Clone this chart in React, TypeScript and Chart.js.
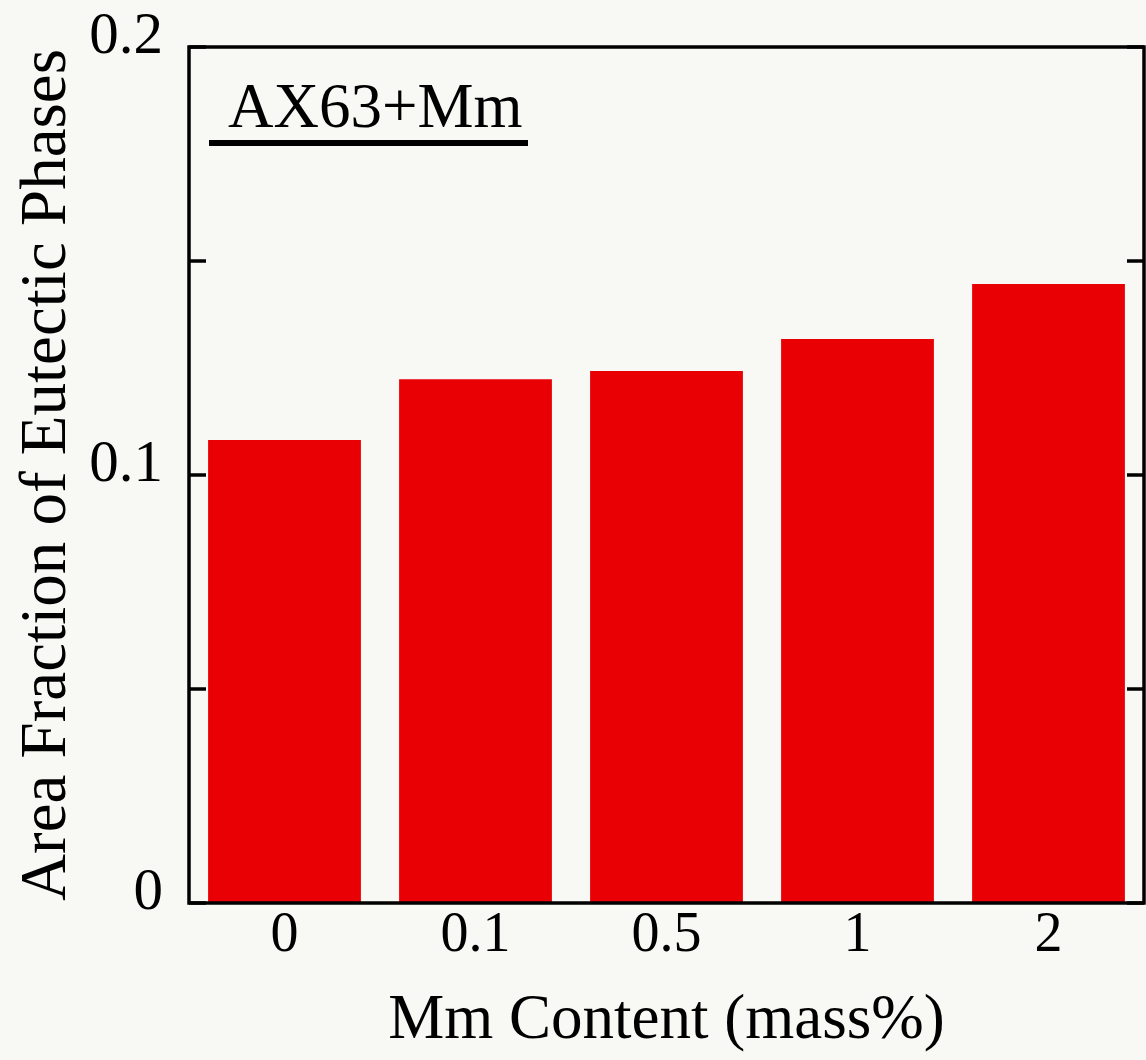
import React, { useEffect, useRef } from 'react';
import { Chart, registerables } from 'chart.js';

Chart.register(...registerables);

// ---- data ----
const categories = ['0', '0.1', '0.5', '1', '2'];
const areaFraction = [0.1082, 0.1224, 0.1243, 0.1318, 0.1446];
const yTickLabels = ['0', '0.1', '0.2'];
const xTitle = 'Mm Content (mass%)';
const yTitle = 'Area Fraction of Eutectic Phases';
const annotationText = 'AX63+Mm';

const SERIF = '"Liberation Serif", "Times New Roman", serif';
const W = 1146;
const H = 1060;

const framePlugin = {
  id: 'frameAndTicks',
  afterDatasetsDraw(chart: any) {
    const { ctx, chartArea: a, scales } = chart;
    const y = scales.y;
    ctx.save();
    ctx.strokeStyle = '#000';
    ctx.lineWidth = 3.5;
    ctx.strokeRect(a.left, a.top, a.right - a.left, a.bottom - a.top);
    y.ticks.forEach((t: any) => {
      const py = y.getPixelForValue(t.value);
      ctx.beginPath();
      ctx.moveTo(a.left, py);
      ctx.lineTo(a.left + 17, py);
      ctx.moveTo(a.right, py);
      ctx.lineTo(a.right - 17, py);
      ctx.stroke();
    });
    // annotation label with underline
    ctx.font = `63px ${SERIF}`;
    ctx.fillStyle = '#000';
    ctx.textAlign = 'left';
    ctx.textBaseline = 'alphabetic';
    ctx.fillText(annotationText, a.left + 39, a.top + 80);
    ctx.fillRect(a.left + 20, a.top + 93, 319, 6);
    ctx.restore();
  },
};

export default function App() {
  const ref = useRef<HTMLCanvasElement | null>(null);

  useEffect(() => {
    if (!ref.current) return;
    const chart = new Chart(ref.current, {
      type: 'bar',
      data: {
        labels: categories,
        datasets: [
          {
            data: areaFraction,
            backgroundColor: '#e80004',
            borderWidth: 0,
            barPercentage: 0.8,
            categoryPercentage: 1,
          },
        ],
      },
      options: {
        responsive: false,
        animation: false,
        layout: { padding: { top: 47, right: 2, left: 0, bottom: 0 } },
        plugins: {
          legend: { display: false },
          tooltip: { enabled: false },
        },
        scales: {
          x: {
            grid: { display: false, drawTicks: false },
            border: { display: false },
            ticks: {
              color: '#000',
              font: { family: SERIF, size: 56 },
              padding: 0,
              maxRotation: 0,
            },
            title: {
              display: true,
              text: xTitle,
              color: '#000',
              font: { family: SERIF, size: 63 },
              padding: { top: 0, bottom: 1 },
            },
            afterFit(scale: any) {
              scale.height = 157;
              scale.paddingLeft = 0;
              scale.paddingRight = 0;
            },
          },
          y: {
            min: 0,
            max: 0.2,
            grid: { display: false, drawTicks: false },
            border: { display: false },
            ticks: {
              stepSize: 0.05,
              color: '#000',
              font: { family: SERIF, size: 59 },
              padding: 26,
              labelOffset: -10,
              callback(value: any) {
                const v = Number(value);
                const found = yTickLabels.find((l) => Math.abs(Number(l) - v) < 1e-9);
                return found ?? '';
              },
            },
            title: {
              display: true,
              text: yTitle,
              color: '#000',
              font: { family: SERIF, size: 65 },
              padding: { top: 9, bottom: 0 },
            },
            afterFit(scale: any) {
              scale.width = 189;
              scale.paddingTop = 0;
              scale.paddingBottom = 0;
            },
          },
        },
      },
      plugins: [framePlugin],
    });
    return () => chart.destroy();
  }, []);

  return (
    <div
      style={{
        position: 'absolute',
        left: 0,
        top: 0,
        width: W,
        height: H,
        background: '#f8f8f4',
        overflow: 'hidden',
      }}
    >
      <canvas ref={ref} width={W} height={H} style={{ display: 'block' }} />
    </div>
  );
}
